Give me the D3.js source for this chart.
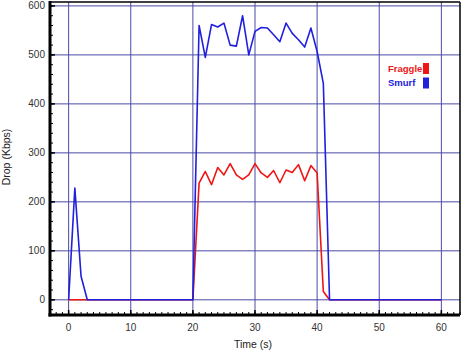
<!DOCTYPE html>
<html>
<head>
<meta charset="utf-8">
<script src="https://cdn.jsdelivr.net/npm/d3@7"></script>
<style>
html,body{margin:0;padding:0;background:#fff;}
svg{display:block;}
</style>
</head>
<body>
<svg id="chart" width="462" height="352"></svg>
<script>
const time = d3.range(0, 61);
const smurf = [0,228,48,0,0,0,0,0,0,0, 0,0,0,0,0,0,0,0,0,0,
  0,560,495,562,557,565,520,518,580,500, 548,556,555,541,527,565,544,531,516,555,
  507,442,0,0,0,0,0,0,0,0, 0,0,0,0,0,0,0,0,0,0, 0];
const fraggle = [0,0,0,0,0,0,0,0,0,0, 0,0,0,0,0,0,0,0,0,0,
  0,238,262,235,270,255,278,255,246,255, 278,259,250,264,239,265,260,276,243,274,
  259,17,0,0,0,0,0,0,0,0, 0,0,0,0,0,0,0,0,0,0, 0];
const xTicks = [0,10,20,30,40,50,60];
const yTicks = [0,100,200,300,400,500,600];
const seriesNames = ["Fraggle","Smurf"];
const seriesColors = ["#ee1515","#2020dd"];

const svg = d3.select("#chart");
const L=50, R=460, T=2, B=315;
const x = d3.scaleLinear().domain([-3,63]).range([L,R]);
const y = d3.scaleLinear().domain([-31,608]).range([B,T]);

// grid
const grid = svg.append("g");
grid.selectAll(".gx").data(xTicks).enter().append("line")
  .attr("x1",d=>x(d)).attr("x2",d=>x(d)).attr("y1",T).attr("y2",B)
  .attr("stroke","#4a4aa8").attr("stroke-width",1);
grid.selectAll(".gy").data(yTicks).enter().append("line")
  .attr("y1",d=>y(d)).attr("y2",d=>y(d)).attr("x1",L).attr("x2",R)
  .attr("stroke","#4a4aa8").attr("stroke-width",1);

// lines
const line = d3.line().x((d,i)=>x(time[i])).y(d=>y(d));
svg.append("path").datum(fraggle).attr("d",line).attr("fill","none")
  .attr("stroke",seriesColors[0]).attr("stroke-width",1.6).attr("stroke-linejoin","round");
svg.append("path").datum(smurf).attr("d",line).attr("fill","none")
  .attr("stroke",seriesColors[1]).attr("stroke-width",1.6).attr("stroke-linejoin","round");

// frame
svg.append("line").attr("x1",L).attr("x2",R).attr("y1",T).attr("y2",T).attr("stroke","#000").attr("stroke-width",1.5);
svg.append("line").attr("x1",R).attr("x2",R).attr("y1",T).attr("y2",B).attr("stroke","#000").attr("stroke-width",1.5);
svg.append("line").attr("x1",L).attr("x2",L).attr("y1",T-1).attr("y2",B+1.5).attr("stroke","#000").attr("stroke-width",3);
svg.append("line").attr("x1",L-1.5).attr("x2",R).attr("y1",B).attr("y2",B).attr("stroke","#000").attr("stroke-width",3);

// minor ticks
const xMinor = d3.range(-3,64,1);
svg.append("g").selectAll("line").data(xMinor).enter().append("line")
  .attr("x1",d=>x(d)).attr("x2",d=>x(d)).attr("y1",B).attr("y2",B-3)
  .attr("stroke","#000").attr("stroke-width",1);
const yMinor = d3.range(-20,608,20);
svg.append("g").selectAll("line").data(yMinor).enter().append("line")
  .attr("y1",d=>y(d)).attr("y2",d=>y(d)).attr("x1",L).attr("x2",L+3)
  .attr("stroke","#000").attr("stroke-width",1);
svg.append("g").selectAll("line").data(yTicks).enter().append("line")
  .attr("y1",d=>y(d)).attr("y2",d=>y(d)).attr("x1",L).attr("x2",L+5)
  .attr("stroke","#000").attr("stroke-width",1.5);
svg.append("g").selectAll("line").data(xTicks).enter().append("line")
  .attr("x1",d=>x(d)).attr("x2",d=>x(d)).attr("y1",B).attr("y2",B-5)
  .attr("stroke","#000").attr("stroke-width",1.5);

// tick labels
const font = "Liberation Sans, Arial, sans-serif";
svg.append("g").selectAll("text").data(xTicks).enter().append("text")
  .attr("x",d=>x(d)).attr("y",331).attr("text-anchor","middle")
  .attr("font-family",font).attr("font-size",10).attr("fill","#333").text(d=>d);
svg.append("g").selectAll("text").data(yTicks).enter().append("text")
  .attr("x",45).attr("y",d=>y(d)+3.5).attr("text-anchor","end")
  .attr("font-family",font).attr("font-size",10).attr("fill","#333").text(d=>d);

// axis titles
svg.append("text").attr("x",253).attr("y",348).attr("text-anchor","middle")
  .attr("font-family",font).attr("font-size",10.5).attr("fill","#222").text("Time (s)");
svg.append("text").attr("transform","translate(10,157) rotate(-90)").attr("text-anchor","middle")
  .attr("font-family",font).attr("font-size",10.5).attr("fill","#222").text("Drop (Kbps)");

// legend
const lg = svg.append("g");
seriesNames.forEach((n,i)=>{
  lg.append("text").attr("x",388).attr("y",72+i*14).attr("font-family",font)
    .attr("font-size",9.5).attr("font-weight","bold").attr("fill",seriesColors[i]).text(n);
  lg.append("rect").attr("x",423).attr("y",63+i*14.5).attr("width",6).attr("height",11)
    .attr("fill",seriesColors[i]);
});
</script>
</body>
</html>
